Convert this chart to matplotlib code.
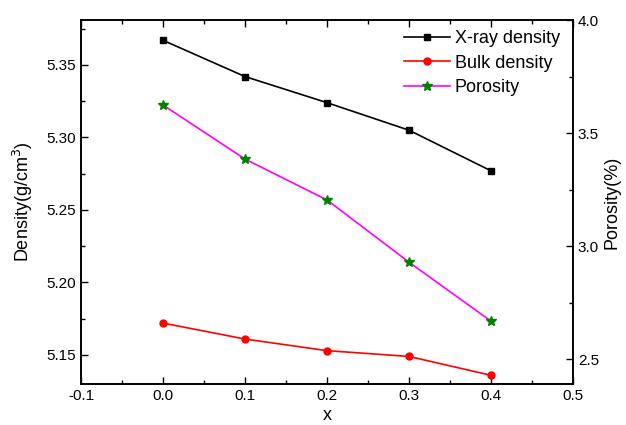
import matplotlib
matplotlib.use("Agg")
import matplotlib.pyplot as plt
from matplotlib.ticker import MultipleLocator

plt.rcParams['font.family'] = ['Liberation Sans', 'DejaVu Sans']

# Composition x and measured properties
x = [0.0, 0.1, 0.2, 0.3, 0.4]
xray_density = [5.367, 5.342, 5.324, 5.305, 5.277]
bulk_density = [5.172, 5.161, 5.153, 5.149, 5.136]
porosity = [3.624, 3.385, 3.204, 2.929, 2.668]

fig = plt.figure(figsize=(6.26, 4.25), dpi=100)
ax = fig.add_axes([81 / 626, 41 / 425, 492 / 626, 364 / 425])
ax2 = ax.twinx()

l1, = ax.plot(x, xray_density, color='black', lw=1.2, marker='s', ms=4.5,
              label='X-ray density')
l2, = ax.plot(x, bulk_density, color='red', lw=1.2, marker='o', ms=5,
              label='Bulk density')
l3, = ax2.plot(x, porosity, color='magenta', lw=1.2, marker='*', ms=7,
               mfc='green', mec='green', label='Porosity')

ax.set_xlim(-0.1, 0.5)
ax.set_ylim(5.13, 5.381)
ax2.set_ylim(2.39, 4.0)

ax.xaxis.set_major_locator(MultipleLocator(0.1))
ax.xaxis.set_minor_locator(MultipleLocator(0.05))
ax.yaxis.set_major_locator(MultipleLocator(0.05))
ax.yaxis.set_minor_locator(MultipleLocator(0.025))
ax2.yaxis.set_major_locator(MultipleLocator(0.5))
ax2.yaxis.set_minor_locator(MultipleLocator(0.25))

ax.xaxis.set_major_formatter(plt.FuncFormatter(lambda v, p: f"{v:.1f}"))
ax.yaxis.set_major_formatter(plt.FuncFormatter(lambda v, p: f"{v:.2f}"))
ax2.yaxis.set_major_formatter(plt.FuncFormatter(lambda v, p: f"{v:.1f}"))

ax.tick_params(axis='x', which='both', direction='in', top=True, labelsize=11)
ax.tick_params(axis='y', which='both', direction='in', left=True, right=False,
               labelsize=11)
ax.tick_params(which='major', length=5, width=1)
ax.tick_params(which='minor', length=3, width=1)
ax2.tick_params(axis='y', which='both', direction='in', labelsize=11)
ax2.tick_params(which='major', length=5, width=1)
ax2.tick_params(which='minor', length=3, width=1)

for a in (ax, ax2):
    for s in a.spines.values():
        s.set_linewidth(1.2)

ax.set_xlabel('x', fontsize=13, labelpad=3)
ax.set_ylabel('Density(g/cm$^3$)', fontsize=13, labelpad=8)
ax2.set_ylabel('Porosity(%)', fontsize=13, labelpad=3)

ax.legend(handles=[l1, l2, l3], loc='upper right', frameon=False, fontsize=13,
          handlelength=2.5, handletextpad=0.3, labelspacing=0.42,
          borderaxespad=0.15, bbox_to_anchor=(0.994, 1.0))

fig.savefig('out.png', dpi=100)
